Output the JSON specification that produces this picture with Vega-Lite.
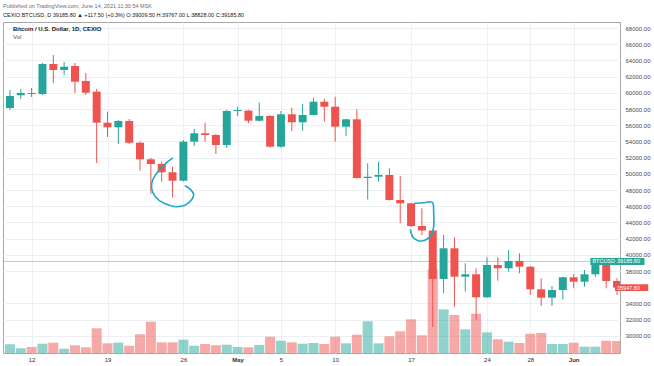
{
  "$schema": "https://vega.github.io/schema/vega-lite/v6.json",
  "width": 617,
  "height": 331,
  "autosize": "none",
  "padding": {"left": 3, "top": 22, "right": 34, "bottom": 13},
  "background": "white",
  "config": {
    "font": "Liberation Sans",
    "view": {"stroke": "#a8a8a8", "strokeWidth": 1}
  },
  "title": {
    "text": "Published on TradingView.com, June 14, 2021 11:30:54 MSK",
    "subtitle": "CEXIO:BTCUSD, D  39185.80 ▲ +117.50 (+0.3%)  O:39009.50  H:39767.00  L:38828.00  C:39185.80",
    "anchor": "start",
    "frame": "group",
    "orient": "top",
    "offset": 4,
    "fontSize": 5.5,
    "fontWeight": "normal",
    "color": "#6a6d78",
    "subtitleFontSize": 5.5,
    "subtitleFontWeight": "normal",
    "subtitleColor": "#131722",
    "subtitlePadding": 3
  },
  "data": {
    "values": [
      {"date": "2021-04-10", "open": 58123, "high": 60346, "low": 57877, "close": 59605, "volume": 870},
      {"date": "2021-04-11", "open": 59700, "high": 60469, "low": 59235, "close": 59975, "volume": 470},
      {"date": "2021-04-12", "open": 59975, "high": 60593, "low": 59481, "close": 59852, "volume": 600},
      {"date": "2021-04-13", "open": 59852, "high": 63679, "low": 59728, "close": 63556, "volume": 930},
      {"date": "2021-04-14", "open": 63556, "high": 64667, "low": 61210, "close": 62815, "volume": 1030},
      {"date": "2021-04-15", "open": 62815, "high": 63802, "low": 62198, "close": 63222, "volume": 430},
      {"date": "2021-04-16", "open": 63309, "high": 63679, "low": 59975, "close": 61370, "volume": 770},
      {"date": "2021-04-17", "open": 61457, "high": 62444, "low": 59728, "close": 60012, "volume": 570},
      {"date": "2021-04-18", "open": 60136, "high": 60469, "low": 51333, "close": 56309, "volume": 2470},
      {"date": "2021-04-19", "open": 56309, "high": 57667, "low": 54543, "close": 55741, "volume": 970},
      {"date": "2021-04-20", "open": 55741, "high": 56642, "low": 53679, "close": 56519, "volume": 1030},
      {"date": "2021-04-21", "open": 56519, "high": 56765, "low": 53679, "close": 53840, "volume": 730},
      {"date": "2021-04-22", "open": 53840, "high": 53963, "low": 50383, "close": 51790, "volume": 1870},
      {"date": "2021-04-23", "open": 51790, "high": 51951, "low": 47506, "close": 51210, "volume": 3130},
      {"date": "2021-04-24", "open": 51210, "high": 51494, "low": 49025, "close": 50185, "volume": 1070},
      {"date": "2021-04-25", "open": 50185, "high": 50877, "low": 47099, "close": 49148, "volume": 1070},
      {"date": "2021-04-26", "open": 49148, "high": 54173, "low": 49049, "close": 53963, "volume": 1330},
      {"date": "2021-04-27", "open": 53963, "high": 55531, "low": 53432, "close": 55000, "volume": 730},
      {"date": "2021-04-28", "open": 55000, "high": 56309, "low": 53963, "close": 54790, "volume": 900},
      {"date": "2021-04-29", "open": 54790, "high": 54900, "low": 52444, "close": 53556, "volume": 770},
      {"date": "2021-04-30", "open": 53556, "high": 57877, "low": 53185, "close": 57753, "volume": 830},
      {"date": "2021-05-01", "open": 57753, "high": 58284, "low": 57136, "close": 57877, "volume": 600},
      {"date": "2021-05-02", "open": 57800, "high": 57900, "low": 56235, "close": 56556, "volume": 570},
      {"date": "2021-05-03", "open": 56556, "high": 58778, "low": 56457, "close": 57136, "volume": 800},
      {"date": "2021-05-04", "open": 57136, "high": 57259, "low": 53222, "close": 53346, "volume": 1630},
      {"date": "2021-05-05", "open": 53346, "high": 57753, "low": 53222, "close": 57346, "volume": 1230},
      {"date": "2021-05-06", "open": 57346, "high": 58160, "low": 55284, "close": 56358, "volume": 1070},
      {"date": "2021-05-07", "open": 56358, "high": 58617, "low": 55321, "close": 57259, "volume": 930},
      {"date": "2021-05-08", "open": 57259, "high": 59395, "low": 57200, "close": 58901, "volume": 1000},
      {"date": "2021-05-09", "open": 58901, "high": 59235, "low": 56432, "close": 58284, "volume": 900},
      {"date": "2021-05-10", "open": 58284, "high": 59519, "low": 53963, "close": 55815, "volume": 1630},
      {"date": "2021-05-11", "open": 55815, "high": 56800, "low": 54667, "close": 56728, "volume": 970},
      {"date": "2021-05-12", "open": 56728, "high": 57963, "low": 49400, "close": 49481, "volume": 1830},
      {"date": "2021-05-13", "open": 49481, "high": 51296, "low": 46827, "close": 49642, "volume": 3170},
      {"date": "2021-05-14", "open": 49642, "high": 51494, "low": 49025, "close": 49852, "volume": 970},
      {"date": "2021-05-15", "open": 49852, "high": 50679, "low": 46700, "close": 46765, "volume": 1670},
      {"date": "2021-05-16", "open": 46765, "high": 49728, "low": 43889, "close": 46358, "volume": 2170},
      {"date": "2021-05-17", "open": 46358, "high": 46400, "low": 43432, "close": 43556, "volume": 3370},
      {"date": "2021-05-18", "open": 43556, "high": 45741, "low": 42444, "close": 43000, "volume": 1770},
      {"date": "2021-05-19", "open": 43000, "high": 43100, "low": 31086, "close": 37012, "volume": 8400},
      {"date": "2021-05-20", "open": 37012, "high": 42444, "low": 35247, "close": 40802, "volume": 4370},
      {"date": "2021-05-21", "open": 40802, "high": 42160, "low": 33593, "close": 37296, "volume": 3800},
      {"date": "2021-05-22", "open": 37296, "high": 38951, "low": 35444, "close": 37593, "volume": 2370},
      {"date": "2021-05-23", "open": 37593, "high": 38333, "low": 31951, "close": 34753, "volume": 3930},
      {"date": "2021-05-24", "open": 34753, "high": 39691, "low": 34700, "close": 38741, "volume": 2070},
      {"date": "2021-05-25", "open": 38741, "high": 39691, "low": 36802, "close": 38333, "volume": 1370},
      {"date": "2021-05-26", "open": 38333, "high": 40593, "low": 37914, "close": 39235, "volume": 1130},
      {"date": "2021-05-27", "open": 39235, "high": 40185, "low": 37716, "close": 38531, "volume": 1000},
      {"date": "2021-05-28", "open": 38531, "high": 38600, "low": 35037, "close": 35741, "volume": 1930},
      {"date": "2021-05-29", "open": 35741, "high": 37099, "low": 33679, "close": 34704, "volume": 2000},
      {"date": "2021-05-30", "open": 34704, "high": 36148, "low": 33679, "close": 35654, "volume": 900},
      {"date": "2021-05-31", "open": 35654, "high": 37300, "low": 34506, "close": 37222, "volume": 900},
      {"date": "2021-06-01", "open": 37222, "high": 37630, "low": 35864, "close": 36679, "volume": 1030},
      {"date": "2021-06-02", "open": 36679, "high": 38123, "low": 36062, "close": 37593, "volume": 630},
      {"date": "2021-06-03", "open": 37593, "high": 39605, "low": 37259, "close": 38900, "volume": 630},
      {"date": "2021-06-04", "open": 38900, "high": 39111, "low": 35864, "close": 36765, "volume": 1230},
      {"date": "2021-06-05", "open": 36765, "high": 37100, "low": 35037, "close": 35947.8, "volume": 1200}
    ]
  },
  "layer": [
    {
      "mark": {"type": "bar", "size": 10, "opacity": 0.5, "clip": true},
      "encoding": {
        "x": {
          "field": "date", "type": "temporal", "title": null,
          "scale": {"type": "utc", "domain": [{"year": 2021, "month": 4, "date": 9, "hours": 19, "minutes": 44, "utc": true}, {"year": 2021, "month": 6, "date": 4, "hours": 19, "minutes": 28, "utc": true}]},
          "axis": {
            "values": [
              {"year": 2021, "month": 4, "date": 12, "utc": true},
              {"year": 2021, "month": 4, "date": 19, "utc": true},
              {"year": 2021, "month": 4, "date": 26, "utc": true},
              {"year": 2021, "month": 5, "date": 1, "utc": true},
              {"year": 2021, "month": 5, "date": 5, "utc": true},
              {"year": 2021, "month": 5, "date": 10, "utc": true},
              {"year": 2021, "month": 5, "date": 17, "utc": true},
              {"year": 2021, "month": 5, "date": 24, "utc": true},
              {"year": 2021, "month": 5, "date": 28, "utc": true},
              {"year": 2021, "month": 6, "date": 1, "utc": true}
            ],
            "labelExpr": "utcdate(datum.value) == 1 ? utcFormat(datum.value, '%b') : utcFormat(datum.value, '%-d')",
            "labelFontWeight": {"condition": {"test": "utcdate(datum.value) == 1", "value": "bold"}, "value": "normal"},
            "title": null,
            "ticks": false,
            "domain": false,
            "grid": true,
            "gridColor": "#eceff3",
            "labelFontSize": 6,
            "labelColor": "#333333",
            "labelPadding": 3,
            "labelOverlap": false,
            "labelFlush": false
          }
        },
        "y": {"field": "volume", "type": "quantitative", "scale": {"domain": [0, 33100], "nice": false}, "axis": null},
        "color": {"condition": {"test": "datum.open < datum.close", "value": "#26a69a"}, "value": "#ef5350"}
      }
    },
    {
      "encoding": {
        "y": {
          "type": "quantitative",
          "title": null,
          "scale": {"domain": [27877, 68741], "nice": false, "zero": false},
          "axis": {
            "orient": "right",
            "values": [30000, 32000, 34000, 38000, 40000, 42000, 44000, 46000, 48000, 50000, 52000, 54000, 56000, 58000, 60000, 62000, 64000, 66000, 68000],
            "format": ".2f",
            "title": null,
            "ticks": false,
            "domain": false,
            "grid": true,
            "gridColor": "#eceff3",
            "labelFontSize": 6,
            "labelColor": "#4a4a4a",
            "labelPadding": 5,
            "labelOverlap": false,
            "labelFlush": false
          }
        }
      },
      "layer": [
        {
          "mark": {"type": "rule", "strokeWidth": 1, "clip": true},
          "encoding": {
            "x": {"field": "date", "type": "temporal", "title": null, "scale": {"type": "utc", "domain": [{"year": 2021, "month": 4, "date": 9, "hours": 19, "minutes": 44, "utc": true}, {"year": 2021, "month": 6, "date": 4, "hours": 19, "minutes": 28, "utc": true}]}},
            "y": {"field": "low"},
            "y2": {"field": "high"},
            "color": {"condition": {"test": "datum.open < datum.close", "value": "#26a69a"}, "value": "#ef5350"}
          }
        },
        {
          "mark": {"type": "bar", "size": 8, "clip": true},
          "encoding": {
            "x": {"field": "date", "type": "temporal", "title": null, "scale": {"type": "utc", "domain": [{"year": 2021, "month": 4, "date": 9, "hours": 19, "minutes": 44, "utc": true}, {"year": 2021, "month": 6, "date": 4, "hours": 19, "minutes": 28, "utc": true}]}},
            "y": {"field": "open"},
            "y2": {"field": "close"},
            "color": {"condition": {"test": "datum.open < datum.close", "value": "#26a69a"}, "value": "#ef5350"}
          }
        },
        {
          "data": {"values": [{"price": 39185.8}]},
          "mark": {"type": "rule", "color": "#26a69a", "strokeWidth": 1, "opacity": 0.45},
          "encoding": {"y": {"field": "price"}}
        },
        {
          "data": {
            "values": [
              {"shape": "a", "i": 1, "date": "2021-04-24T23:26:00Z", "price": 51914},
              {"shape": "a", "i": 2, "date": "2021-04-24T08:51:00Z", "price": 51296},
              {"shape": "a", "i": 3, "date": "2021-04-23T16:57:00Z", "price": 50346},
              {"shape": "a", "i": 4, "date": "2021-04-23T03:53:00Z", "price": 49235},
              {"shape": "a", "i": 5, "date": "2021-04-23T01:42:00Z", "price": 48210},
              {"shape": "a", "i": 6, "date": "2021-04-23T09:46:00Z", "price": 47173},
              {"shape": "a", "i": 7, "date": "2021-04-24T05:21:00Z", "price": 46358},
              {"shape": "a", "i": 8, "date": "2021-04-25T06:37:00Z", "price": 45938},
              {"shape": "a", "i": 9, "date": "2021-04-26T04:24:00Z", "price": 46148},
              {"shape": "a", "i": 10, "date": "2021-04-26T18:59:00Z", "price": 46852},
              {"shape": "a", "i": 11, "date": "2021-04-26T22:42:00Z", "price": 47506},
              {"shape": "a", "i": 12, "date": "2021-04-26T15:17:00Z", "price": 48086},
              {"shape": "a", "i": 13, "date": "2021-04-26T04:24:00Z", "price": 48494},
              {"shape": "b", "i": 1, "date": "2021-05-17T08:38:00Z", "price": 46358},
              {"shape": "b", "i": 2, "date": "2021-05-18T04:58:00Z", "price": 46432},
              {"shape": "b", "i": 3, "date": "2021-05-18T23:02:00Z", "price": 46481},
              {"shape": "b", "i": 4, "date": "2021-05-19T02:05:00Z", "price": 45123},
              {"shape": "b", "i": 5, "date": "2021-05-19T02:05:00Z", "price": 43469},
              {"shape": "b", "i": 6, "date": "2021-05-18T20:51:00Z", "price": 42444},
              {"shape": "b", "i": 7, "date": "2021-05-18T07:48:00Z", "price": 41827},
              {"shape": "b", "i": 8, "date": "2021-05-17T15:53:00Z", "price": 41741},
              {"shape": "b", "i": 9, "date": "2021-05-17T04:21:00Z", "price": 42160},
              {"shape": "b", "i": 10, "date": "2021-05-16T22:28:00Z", "price": 43062}
            ]
          },
          "mark": {"type": "line", "interpolate": "catmull-rom", "strokeWidth": 1.6, "color": "#22a9c6", "strokeCap": "round"},
          "encoding": {
            "x": {"field": "date", "type": "temporal", "title": null, "scale": {"type": "utc", "domain": [{"year": 2021, "month": 4, "date": 9, "hours": 19, "minutes": 44, "utc": true}, {"year": 2021, "month": 6, "date": 4, "hours": 19, "minutes": 28, "utc": true}]}},
            "y": {"field": "price"},
            "detail": {"field": "shape"},
            "order": {"field": "i", "type": "quantitative"}
          }
        },
        {
          "data": {"values": [{"name": "Bitcoin / U.S. Dollar, 1D, CEXIO", "when": "2021-04-09T19:44:00Z", "price": 67877}]},
          "mark": {"type": "text", "align": "left", "baseline": "middle", "dx": 5, "fontSize": 6, "fontWeight": "bold", "color": "#131722"},
          "encoding": {
            "x": {"field": "when", "type": "temporal", "title": null, "scale": {"type": "utc", "domain": [{"year": 2021, "month": 4, "date": 9, "hours": 19, "minutes": 44, "utc": true}, {"year": 2021, "month": 6, "date": 4, "hours": 19, "minutes": 28, "utc": true}]}},
            "y": {"field": "price"},
            "text": {"field": "name"}
          }
        },
        {
          "data": {"values": [{"name": "Vol", "when": "2021-04-09T19:44:00Z", "price": 66889}]},
          "mark": {"type": "text", "align": "left", "baseline": "middle", "dx": 5, "fontSize": 6, "color": "#555555"},
          "encoding": {
            "x": {"field": "when", "type": "temporal", "title": null, "scale": {"type": "utc", "domain": [{"year": 2021, "month": 4, "date": 9, "hours": 19, "minutes": 44, "utc": true}, {"year": 2021, "month": 6, "date": 4, "hours": 19, "minutes": 28, "utc": true}]}},
            "y": {"field": "price"},
            "text": {"field": "name"}
          }
        },
        {
          "data": {"values": [
            {"from": "2021-06-02T13:00:00Z", "to": "2021-06-07T12:45:00Z", "hi": 39616, "lo": 38756, "kind": "up"},
            {"from": "2021-06-04T19:28:00Z", "to": "2021-06-07T21:00:00Z", "hi": 36378, "lo": 35518, "kind": "down"}
          ]},
          "mark": {"type": "rect", "clip": false},
          "encoding": {
            "x": {"field": "from", "type": "temporal", "title": null, "scale": {"type": "utc", "domain": [{"year": 2021, "month": 4, "date": 9, "hours": 19, "minutes": 44, "utc": true}, {"year": 2021, "month": 6, "date": 4, "hours": 19, "minutes": 28, "utc": true}]}},
            "x2": {"field": "to"},
            "y": {"field": "hi"},
            "y2": {"field": "lo"},
            "color": {"condition": {"test": "datum.kind == 'up'", "value": "#26a69a"}, "value": "#ef5350"}
          }
        },
        {
          "data": {"values": [
            {"txt": "BTCUSD", "when": "2021-06-02T13:00:00Z", "price": 39185.8},
            {"txt": "39185.80", "when": "2021-06-04T19:28:00Z", "price": 39185.8},
            {"txt": "35947.80", "when": "2021-06-04T19:28:00Z", "price": 35947.8}
          ]},
          "mark": {"type": "text", "align": "left", "baseline": "middle", "dx": 2, "fontSize": 5.5, "color": "white", "clip": false},
          "encoding": {
            "x": {"field": "when", "type": "temporal", "title": null, "scale": {"type": "utc", "domain": [{"year": 2021, "month": 4, "date": 9, "hours": 19, "minutes": 44, "utc": true}, {"year": 2021, "month": 6, "date": 4, "hours": 19, "minutes": 28, "utc": true}]}},
            "y": {"field": "price"},
            "text": {"field": "txt"}
          }
        }
      ]
    }
  ],
  "resolve": {"scale": {"y": "independent"}}
}
